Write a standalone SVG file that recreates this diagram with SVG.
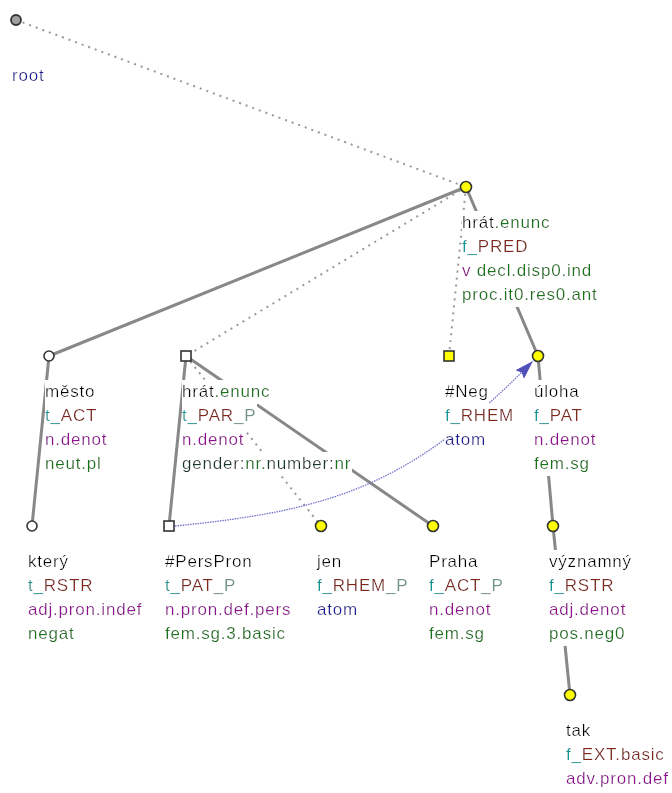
<svg xmlns="http://www.w3.org/2000/svg" width="672" height="793" viewBox="0 0 672 793">
<style>
text{font-family:"Liberation Sans",Arial,sans-serif;font-size:17px;letter-spacing:0.8px;fill:#000}
.lbl{filter:url(#bg)}
.lem{fill:#000}
.grn{fill:#127512}
.tea{fill:#0a9898}
.brn{fill:#82281a}
.sfx{fill:#6f9484}
.pur{fill:#930f93}
.nav{fill:#1a1a98}
.drk{fill:#183828}
.solid{stroke:#888;stroke-width:3;fill:none;stroke-linecap:round}
.dot{stroke:#999;stroke-width:2;fill:none;stroke-dasharray:2 5}
.arr{stroke:#7272cc;stroke-width:1.3;fill:none;stroke-dasharray:1.5 1}
.yc{fill:#ffff00;stroke:#333;stroke-width:1.6}
.wc{fill:#fff;stroke:#333;stroke-width:1.6}
.gc{fill:#a0a0a0;stroke:#333;stroke-width:1.8}
</style>
<defs>
<filter id="bg" x="0" y="-0.1" width="1" height="1.22">
<feFlood flood-color="#fff"/>
<feComposite in="SourceGraphic"/>
</filter>
<marker id="ah" markerUnits="userSpaceOnUse" markerWidth="22" markerHeight="14" refX="19" refY="6" orient="auto">
<path d="M0,0 L19,6 L0,12 L3,6 z" fill="#5050b8"/>
</marker>
</defs>
<rect width="672" height="793" fill="#fff"/>
<g id="connectors">
<line class="dot" x1="16" y1="20" x2="466" y2="187"/>
<line class="solid" x1="466" y1="187" x2="49" y2="356"/>
<line class="dot" x1="466" y1="187" x2="186" y2="356"/>
<line class="dot" x1="466" y1="187" x2="449" y2="356"/>
<line class="solid" x1="466" y1="187" x2="538" y2="356"/>
<line class="solid" x1="49" y1="356" x2="32" y2="526"/>
<line class="solid" x1="186" y1="356" x2="169" y2="526"/>
<line class="dot" x1="186" y1="356" x2="321" y2="526"/>
<line class="solid" x1="186" y1="356" x2="433" y2="526"/>
<line class="solid" x1="538" y1="356" x2="553" y2="526"/>
<line class="solid" x1="553" y1="526" x2="570" y2="695"/>
<path class="arr" d="M175,526 C337,510 413,483 533,361" marker-end="url(#ah)"/>
</g>
<g id="n-root">
<text class="lbl" x="12" y="81"><tspan class="nav">root</tspan></text>
<circle class="gc" cx="16" cy="20" r="5"/>
</g>
<g id="n-hrat">
<text class="lbl" x="462" y="228"><tspan class="lem">hrát</tspan><tspan class="grn">.enunc</tspan></text>
<text class="lbl" x="462" y="252"><tspan class="tea">f_</tspan><tspan class="brn">PRED</tspan></text>
<text class="lbl" x="462" y="276"><tspan class="pur">v</tspan><tspan class="grn"> decl.disp0.ind</tspan></text>
<text class="lbl" x="462" y="300"><tspan class="grn">proc.it0.res0.ant</tspan></text>
<circle class="yc" cx="466" cy="187" r="5.5"/>
</g>
<g id="n-mesto">
<text class="lbl" x="45" y="397"><tspan class="lem">město</tspan></text>
<text class="lbl" x="45" y="421"><tspan class="tea">t_</tspan><tspan class="brn">ACT</tspan></text>
<text class="lbl" x="45" y="445"><tspan class="pur">n.denot</tspan></text>
<text class="lbl" x="45" y="469"><tspan class="grn">neut.pl</tspan></text>
<circle class="wc" cx="49" cy="356" r="5"/>
</g>
<g id="n-hrat-coord">
<text class="lbl" x="182" y="397"><tspan class="lem">hrát</tspan><tspan class="grn">.enunc</tspan></text>
<text class="lbl" x="182" y="421"><tspan class="tea">t_</tspan><tspan class="brn">PAR</tspan><tspan class="sfx">_P</tspan></text>
<text class="lbl" x="182" y="445"><tspan class="pur">n.denot</tspan></text>
<text class="lbl" x="182" y="469"><tspan class="drk">gender:</tspan><tspan class="grn">nr.</tspan><tspan class="drk">number:</tspan><tspan class="grn">nr</tspan></text>
<rect class="wc" x="181" y="351" width="10" height="10"/>
</g>
<g id="n-neg">
<text class="lbl" x="445" y="397"><tspan class="lem">#Neg</tspan></text>
<text class="lbl" x="445" y="421"><tspan class="tea">f_</tspan><tspan class="brn">RHEM</tspan></text>
<text class="lbl" x="445" y="445"><tspan class="nav">atom</tspan></text>
<rect class="yc" x="444" y="351" width="10" height="10"/>
</g>
<g id="n-uloha">
<text class="lbl" x="534" y="397"><tspan class="lem">úloha</tspan></text>
<text class="lbl" x="534" y="421"><tspan class="tea">f_</tspan><tspan class="brn">PAT</tspan></text>
<text class="lbl" x="534" y="445"><tspan class="pur">n.denot</tspan></text>
<text class="lbl" x="534" y="469"><tspan class="grn">fem.sg</tspan></text>
<circle class="yc" cx="538" cy="356" r="5.5"/>
</g>
<g id="n-ktery">
<text class="lbl" x="28" y="567"><tspan class="lem">který</tspan></text>
<text class="lbl" x="28" y="591"><tspan class="tea">t_</tspan><tspan class="brn">RSTR</tspan></text>
<text class="lbl" x="28" y="615"><tspan class="pur">adj.pron.indef</tspan></text>
<text class="lbl" x="28" y="639"><tspan class="grn">negat</tspan></text>
<circle class="wc" cx="32" cy="526" r="5"/>
</g>
<g id="n-perspron">
<text class="lbl" x="165" y="567"><tspan class="lem">#PersPron</tspan></text>
<text class="lbl" x="165" y="591"><tspan class="tea">t_</tspan><tspan class="brn">PAT</tspan><tspan class="sfx">_P</tspan></text>
<text class="lbl" x="165" y="615"><tspan class="pur">n.pron.def.pers</tspan></text>
<text class="lbl" x="165" y="639"><tspan class="grn">fem.sg.3.basic</tspan></text>
<rect class="wc" x="164" y="521" width="10" height="10"/>
</g>
<g id="n-jen">
<text class="lbl" x="317" y="567"><tspan class="lem">jen</tspan></text>
<text class="lbl" x="317" y="591"><tspan class="tea">f_</tspan><tspan class="brn">RHEM</tspan><tspan class="sfx">_P</tspan></text>
<text class="lbl" x="317" y="615"><tspan class="nav">atom</tspan></text>
<circle class="yc" cx="321" cy="526" r="5.5"/>
</g>
<g id="n-praha">
<text class="lbl" x="429" y="567"><tspan class="lem">Praha</tspan></text>
<text class="lbl" x="429" y="591"><tspan class="tea">f_</tspan><tspan class="brn">ACT</tspan><tspan class="sfx">_P</tspan></text>
<text class="lbl" x="429" y="615"><tspan class="pur">n.denot</tspan></text>
<text class="lbl" x="429" y="639"><tspan class="grn">fem.sg</tspan></text>
<circle class="yc" cx="433" cy="526" r="5.5"/>
</g>
<g id="n-vyznamny">
<text class="lbl" x="549" y="567"><tspan class="lem">významný</tspan></text>
<text class="lbl" x="549" y="591"><tspan class="tea">f_</tspan><tspan class="brn">RSTR</tspan></text>
<text class="lbl" x="549" y="615"><tspan class="pur">adj.denot</tspan></text>
<text class="lbl" x="549" y="639"><tspan class="grn">pos.neg0</tspan></text>
<circle class="yc" cx="553" cy="526" r="5.5"/>
</g>
<g id="n-tak">
<text class="lbl" x="566" y="736"><tspan class="lem">tak</tspan></text>
<text class="lbl" x="566" y="760"><tspan class="tea">f_</tspan><tspan class="brn">EXT.basic</tspan></text>
<text class="lbl" x="566" y="784"><tspan class="pur">adv.pron.def</tspan></text>
<circle class="yc" cx="570" cy="695" r="5.5"/>
</g>
</svg>
